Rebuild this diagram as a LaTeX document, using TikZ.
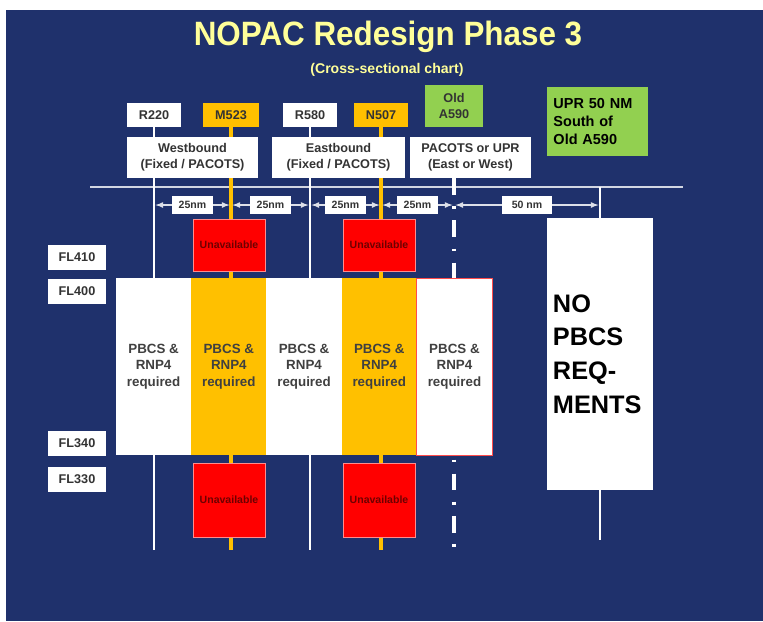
\documentclass[tikz,border=0pt]{standalone}
\usepackage{fontspec}
\setmainfont{Liberation Sans}
\newfontfamily\titlefont[FakeStretch=0.93]{Liberation Sans}
\usetikzlibrary{positioning}
\definecolor{navy}{RGB}{31,49,108}
\definecolor{gold}{RGB}{255,192,0}
\definecolor{lime}{RGB}{146,208,80}
\definecolor{paleyel}{RGB}{255,255,153}
\definecolor{darkred}{RGB}{110,0,0}
\pgfdeclarelayer{back}
\pgfdeclarelayer{lines}
\pgfsetlayers{back,lines,main}

\begin{document}
\begin{tikzpicture}[x=0.025cm, y=-0.025cm]
	\tikzset{lbl/.style={fill=white, minimum width=1.35cm, minimum height=0.6cm, inner sep=1pt, text=black!80, font=\bfseries\fontsize{9}{11}\selectfont},
	rt/.style={fill=white, minimum height=1.025cm, inner sep=1pt, align=center, text=black!80, font=\bfseries\fontsize{9}{11.4}\selectfont},
	fl/.style={fill=white, minimum width=1.45cm, minimum height=0.625cm, inner sep=1pt, text=black!80, font=\bfseries\fontsize{9}{11}\selectfont},
	col/.style={fill=white, minimum width=1.88cm, minimum height=4.425cm, inner sep=0pt, outer sep=0pt, align=center, text=black!75, font=\bfseries\fontsize{9.5}{11.7}\selectfont},
	ua/.style={fill=red, draw=red!45!white, line width=0.6pt, minimum width=1.8cm, minimum height=1.3cm, text=darkred, font=\bfseries\fontsize{7.5}{9}\selectfont},
	nm/.style={fill=white, minimum width=1cm, minimum height=0.45cm, inner sep=1pt, text=black!80, font=\bfseries\fontsize{7.5}{9}\selectfont},
	wl/.style={white, line width=2pt},
	ol/.style={gold, line width=2.5pt},
	dl/.style={white, line width=2.5pt, dash pattern=on 12pt off 8pt on 2pt off 8pt},
	dim/.style={<->, >=latex, white!85!navy, line width=0.9pt, shorten <=1pt, shorten >=1pt}}

	\useasboundingbox (0,0) rectangle (763,621);
	\begin{pgfonlayer}{back}
		\fill[navy] (6,10) rectangle (763,621);
	\end{pgfonlayer}

	\node[text=paleyel, font=\titlefont\bfseries\fontsize{24}{28}\selectfont] (title) at (388,37) {NOPAC Redesign Phase 3};
	\node[text=paleyel, font=\bfseries\fontsize{10}{12}\selectfont] (sub) at (387,70) {(Cross-sectional chart)};

	% routes
	\node[lbl] (r220) at (154,115) {R220};
	\node[lbl, fill=gold, minimum width=1.4cm] (m523) at (231,115) {M523};
	\node[lbl] (r580) at (310,115) {R580};
	\node[lbl, fill=gold, minimum width=1.325cm] (n507) at (381,115) {N507};
	\node[lbl, fill=lime, minimum width=1.45cm, minimum height=1.05cm, align=center] (old) at (454,106) {Old\\A590};
	\node[fill=lime, minimum width=2.525cm, minimum height=1.725cm, inner sep=0pt, text width=2.2cm, align=left, text=black, font=\bfseries\fontsize{10.3}{13}\selectfont] (upr) at (597.5,121.5) {UPR 50 NM\\South of\\Old A590};

	\node[rt, minimum width=3.275cm] (west) at (192.5,157.5) {Westbound\\(Fixed / PACOTS)};
	\node[rt, minimum width=3.325cm] (east) at (338.5,157.5) {Eastbound\\(Fixed / PACOTS)};
	\node[rt, minimum width=3.025cm] (pac) at (470.5,157.5) {PACOTS or UPR\\(East or West)};

	\coordinate (bot) at (0,550);
	\coordinate (u50) at (600,187);
	\coordinate (u50b) at (600,540);
	\begin{pgfonlayer}{lines}
		\draw[white!80!navy, line width=1pt] (90,187) -- (683,187);
		\draw[wl] (r220.south) -- (r220.south |- bot);
		\draw[ol] (m523.south) -- (m523.south |- bot);
		\draw[wl] (r580.south) -- (r580.south |- bot);
		\draw[ol] (n507.south) -- (n507.south |- bot);
		\draw[dl] (pac.south -| old) -- (old |- bot);
		\draw[wl, line width=1.5pt] (u50) -- (u50b);
	\end{pgfonlayer}

	% lateral spacing
	\coordinate (dy) at (0,205);
	\draw[dim] (r220 |- dy) -- node[nm] (d1) {25nm} (m523 |- dy);
	\draw[dim] (m523 |- dy) -- node[nm] (d2) {25nm} (r580 |- dy);
	\draw[dim] (r580 |- dy) -- node[nm] (d3) {25nm} (n507 |- dy);
	\draw[dim] (n507 |- dy) -- node[nm] (d4) {25nm} (old |- dy);
	\draw[dim] (old |- dy) -- node[nm, minimum width=1.225cm] (d5) {50 nm} (u50 |- dy);

	% flight levels
	\node[fl] (fl410) at (77,257) {FL410};
	\node[fl] (fl400) at (77,291.5) {FL400};
	\node[fl] (fl340) at (77,443.5) {FL340};
	\node[fl] (fl330) at (77,479) {FL330};

	\node[col] (c1) at (153.6,366.5) {PBCS \&\\RNP4\\required};
	\node[col, fill=gold, right=0pt of c1] (c2) {PBCS \&\\RNP4\\required};
	\node[col, right=0pt of c2] (c3) {PBCS \&\\RNP4\\required};
	\node[col, fill=gold, right=0pt of c3] (c4) {PBCS \&\\RNP4\\required};
	\node[col, draw=red!70, line width=0.6pt, right=0pt of c4] (c5) {PBCS \&\\RNP4\\required};

	\node[ua] (u1) at (229,245) {Unavailable};
	\node[ua] (u2) at (379,245) {Unavailable};
	\node[ua, minimum height=1.85cm] (u3) at (229,500) {Unavailable};
	\node[ua, minimum height=1.85cm] (u4) at (379,500) {Unavailable};

	\node[fill=white, minimum width=2.65cm, minimum height=6.8cm, inner sep=0pt, text width=2.35cm, align=left, text=black, font=\bfseries\fontsize{18}{24}\selectfont] (no) at (600,354) {NO\\PBCS\\REQ-\\MENTS};
\end{tikzpicture}
\end{document}
